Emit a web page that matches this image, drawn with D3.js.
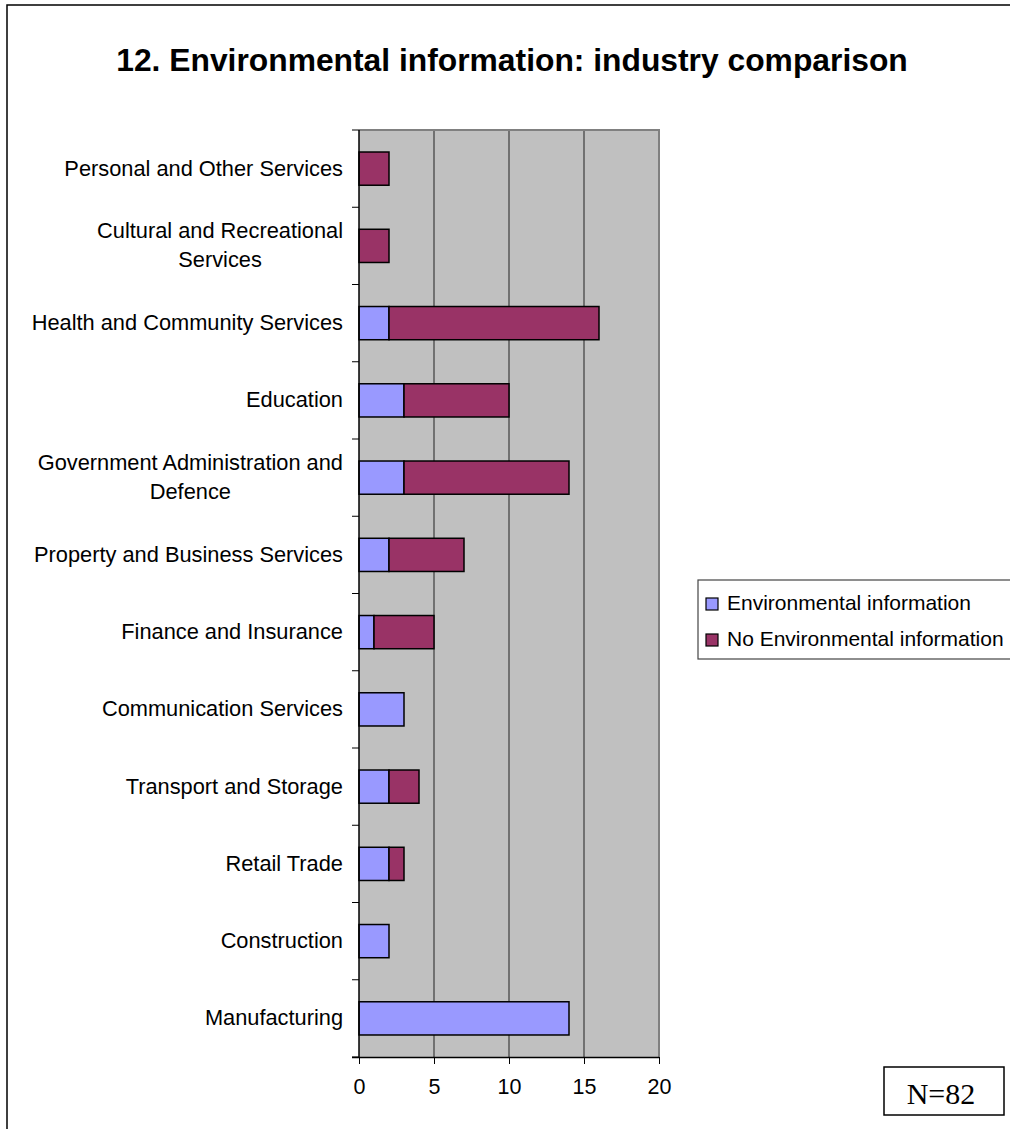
<!DOCTYPE html>
<html>
<head>
<meta charset="utf-8">
<script src="https://cdn.jsdelivr.net/npm/d3@7"></script>
<style>
  html, body { margin: 0; padding: 0; background: #fff; }
  svg { display: block; }
</style>
</head>
<body>
<svg id="chart" width="1010" height="1129"></svg>
<script>
// Industries, listed from the bottom of the chart upwards
const categories = [
  "Manufacturing",
  "Construction",
  "Retail Trade",
  "Transport and Storage",
  "Communication Services",
  "Finance and Insurance",
  "Property and Business Services",
  "Government Administration and Defence",
  "Education",
  "Health and Community Services",
  "Cultural and Recreational Services",
  "Personal and Other Services"
];
// Number of organisations providing environmental information
const envInfo   = [14, 2, 2, 2, 3, 1, 2, 3, 3, 2, 0, 0];
// Number of organisations providing no environmental information
const noEnvInfo = [0, 0, 1, 2, 0, 4, 5, 11, 7, 14, 2, 2];
const seriesNames = ["Environmental information", "No Environmental information"];
const seriesColors = ["#9999FF", "#993366"];
const xTicks = [0, 5, 10, 15, 20];
const titleText = "12. Environmental information: industry comparison";
const sampleNote = "N=82";

const sans = "'Liberation Sans', Arial, sans-serif";
const serif = "'Liberation Serif', 'Times New Roman', serif";

const svg = d3.select("#chart").style("font-family", sans);

// Outer chart frame
svg.append("rect")
  .attr("x", 7).attr("y", 5)
  .attr("width", 1020).attr("height", 1140)
  .attr("fill", "#fff").attr("stroke", "#000").attr("stroke-width", 1.5);

// Title
svg.append("text")
  .attr("x", 512).attr("y", 71)
  .attr("text-anchor", "middle")
  .style("font-size", "31.8px").style("font-weight", "bold")
  .text(titleText);

const plot = { left: 359, right: 659, top: 130, bottom: 1057 };

const x = d3.scaleLinear().domain([0, 20]).range([plot.left, plot.right]);
const y = d3.scaleBand()
  .domain(categories.slice().reverse())
  .range([plot.top, plot.bottom])
  .paddingInner(0.57).paddingOuter(0.285);

// Plot background
svg.append("rect")
  .attr("x", plot.left).attr("y", plot.top)
  .attr("width", plot.right - plot.left).attr("height", plot.bottom - plot.top)
  .attr("fill", "#C0C0C0");

// Vertical gridlines
svg.append("g").selectAll("line")
  .data(xTicks.filter(d => d > 0 && d < 20))
  .join("line")
  .attr("x1", d => x(d)).attr("x2", d => x(d))
  .attr("y1", plot.top).attr("y2", plot.bottom)
  .attr("stroke", "#222").attr("stroke-width", 1);

// Plot border (top and right in grey)
svg.append("path")
  .attr("d", `M${plot.left},${plot.top}H${plot.right}V${plot.bottom}`)
  .attr("fill", "none").attr("stroke", "#808080").attr("stroke-width", 2);

// Stacked bars
const rows = categories.map((c, i) => ({ cat: c, values: [envInfo[i], noEnvInfo[i]] }));
const stackData = d3.stack().keys([0, 1]).value((d, k) => d.values[k])(rows);

stackData.forEach((layer, k) => {
  svg.append("g").selectAll("rect")
    .data(layer.filter(d => d[1] - d[0] > 0))
    .join("rect")
    .attr("x", d => x(d[0]))
    .attr("y", d => y(d.data.cat))
    .attr("width", d => x(d[1]) - x(d[0]))
    .attr("height", y.bandwidth())
    .attr("fill", seriesColors[k])
    .attr("stroke", "#000").attr("stroke-width", 1.5);
});

// X axis
const xAxis = svg.append("g")
  .attr("transform", `translate(0,${plot.bottom})`)
  .call(d3.axisBottom(x).tickValues(xTicks).tickSize(7).tickPadding(15).tickSizeOuter(0));
xAxis.select(".domain").attr("stroke", "#000").attr("stroke-width", 1.5)
  .attr("d", `M${plot.left - 7},0.5H${plot.right}`);
xAxis.selectAll(".tick line").attr("stroke", "#000");
xAxis.selectAll(".tick text")
  .style("font-family", sans)
  .style("font-size", "21.5px").attr("fill", "#000");

// Y axis line and boundary ticks between categories
svg.append("line")
  .attr("x1", plot.left).attr("x2", plot.left)
  .attr("y1", plot.top).attr("y2", plot.bottom)
  .attr("stroke", "#000").attr("stroke-width", 1.5);
const step = y.step();
svg.append("g").selectAll("line")
  .data(d3.range(categories.length + 1))
  .join("line")
  .attr("x1", plot.left - 7).attr("x2", plot.left)
  .attr("y1", i => plot.top + i * step).attr("y2", i => plot.top + i * step)
  .attr("stroke", "#000").attr("stroke-width", 1);

// Category labels, wrapped to a maximum width and centred as a block
const labelFont = 21.8;
const maxLabelWidth = 320;
const labelRight = 343;
const lineGap = 29;
const labelsG = svg.append("g").style("font-size", labelFont + "px");
categories.forEach(cat => {
  const cy = y(cat) + y.bandwidth() / 2;
  const probe = labelsG.append("text");
  const words = cat.split(" ");
  const lines = [];
  let cur = [];
  words.forEach(w => {
    cur.push(w);
    probe.text(cur.join(" "));
    if (probe.node().getComputedTextLength() > maxLabelWidth && cur.length > 1) {
      cur.pop();
      lines.push(cur.join(" "));
      cur = [w];
    }
  });
  lines.push(cur.join(" "));
  const widths = lines.map(l => { probe.text(l); return probe.node().getComputedTextLength(); });
  probe.remove();
  const blockW = d3.max(widths);
  const cx = labelRight - blockW / 2;
  const startY = cy + 7 - (lines.length - 1) * lineGap / 2;
  lines.forEach((l, i) => {
    labelsG.append("text")
      .attr("x", cx).attr("y", startY + i * lineGap)
      .attr("text-anchor", "middle")
      .text(l);
  });
});

// Legend
const legend = svg.append("g");
legend.append("rect")
  .attr("x", 698).attr("y", 580).attr("width", 330).attr("height", 79)
  .attr("fill", "#fff").attr("stroke", "#444").attr("stroke-width", 1.2);
seriesNames.forEach((name, k) => {
  const by = 610 + k * 36;
  legend.append("rect")
    .attr("x", 706).attr("y", by - 12).attr("width", 12).attr("height", 12)
    .attr("fill", seriesColors[k]).attr("stroke", "#000").attr("stroke-width", 1.2);
  legend.append("text")
    .attr("x", 727).attr("y", by)
    .style("font-size", "21px")
    .text(name);
});

// Sample size note
svg.append("rect")
  .attr("x", 884).attr("y", 1067).attr("width", 120).attr("height", 48)
  .attr("fill", "#fff").attr("stroke", "#000").attr("stroke-width", 1.5);
svg.append("text")
  .attr("x", 941).attr("y", 1104)
  .attr("text-anchor", "middle")
  .style("font-family", serif)
  .style("font-size", "30px")
  .text(sampleNote);
</script>
</body>
</html>
